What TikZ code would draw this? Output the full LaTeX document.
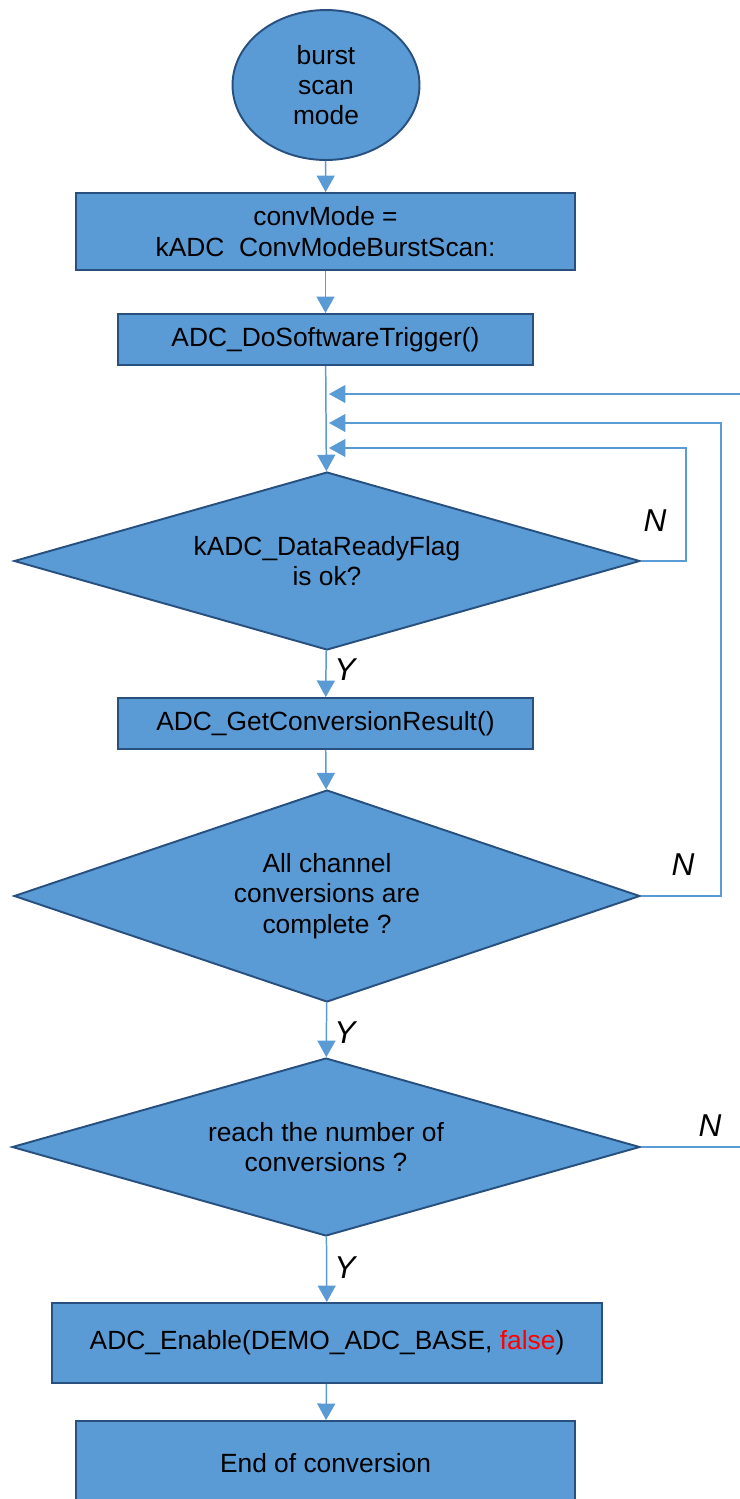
\documentclass[tikz,border=0pt]{standalone}
\usepackage{fontspec}
\setmainfont{Liberation Sans}
\usetikzlibrary{shapes.geometric,arrows.meta}
\definecolor{boxfill}{HTML}{5B9BD5}
\definecolor{boxline}{HTML}{27507F}
\definecolor{wire}{HTML}{5B9BD5}
\definecolor{kwred}{HTML}{FF0000}
\tikzset{
  base/.style={fill=boxfill, draw=boxline, line width=1.1pt, align=center,
    font=\fontsize{15}{17.2}\selectfont, inner sep=0pt},
  procbox/.style={base, rectangle},
  startnode/.style={base, ellipse, minimum width=3.74cm, minimum height=3cm},
  decision/.style={base, diamond, shape aspect=3.5},
  flow/.style={draw=wire, line width=0.85pt,
    -{Triangle[width=0.36cm,length=0.33cm,fill=wire]}},
  plainflow/.style={draw=wire, line width=0.85pt},
  yn/.style={font=\fontsize{18}{20}\selectfont\itshape, inner sep=0pt}
}
\begin{document}
\begin{tikzpicture}[x=0.02cm,y=-0.02cm]
\useasboundingbox (0,0) rectangle (740,1499);
\clip (0,0) rectangle (740,1499);

% process steps
\node[startnode] (start) at (326,85) {burst\\scan\\mode};
\node[procbox, minimum width=9.98cm, minimum height=1.54cm] (mode) at (325.5,231.5)
  {convMode =\\kADC\ \ ConvModeBurstScan:};
\node[procbox, minimum width=8.3cm, minimum height=1.02cm] (trig) at (325.5,339.5)
  {ADC\_DoSoftwareTrigger()};
\node[decision, minimum width=12.52cm, minimum height=3.56cm] (ready) at (327,561)
  {kADC\_DataReadyFlag\\is ok?};
\node[procbox, minimum width=8.3cm, minimum height=1.02cm] (get) at (325.5,723.5)
  {ADC\_GetConversionResult()};
\node[decision, minimum width=12.52cm, minimum height=4.24cm] (done) at (327,896)
  {All channel\\conversions are\\complete ?};
\node[decision, minimum width=12.56cm, minimum height=3.56cm] (count) at (326,1147)
  {reach the number of\\conversions ?};
\node[procbox, minimum width=11cm, minimum height=1.6cm] (disable) at (327,1343)
  {ADC\_Enable(DEMO\_ADC\_BASE, \textcolor{kwred}{false})};
\node[procbox, minimum width=9.98cm, minimum height=1.68cm] (finish) at (325.5,1463)
  {End of conversion};

% loop entry points on the main line
\coordinate (in3) at (329,394);
\coordinate (in2) at (329,423);
\coordinate (in1) at (329,448);
\coordinate (edgeTop) at (740,394);
\coordinate (edgeBottom) at (740,1147);

% main flow
\draw[flow] (start) -- (mode);
\draw[flow] (mode) -- (trig);
\draw[flow] (trig) -- (ready);
\draw[flow] (ready) -- (get);
\draw[flow] (get) -- (done);
\draw[flow] (done) -- (count);
\draw[flow] (count) -- (disable);
\draw[flow] (disable) -- (finish);

% "no" branches
\draw[flow] (ready.east) -- ++(45,0) |- (in1);
\draw[flow] (done.east) -- ++(80,0) |- (in2);
\draw[plainflow] (count.east) -- (edgeBottom);
\draw[flow] (edgeTop) -- (in3);

% branch labels
\node[yn] (n1) at (655,521) {N};
\node[yn] (n2) at (683,865) {N};
\node[yn] (n3) at (710,1126) {N};
\node[yn] (y1) at (345,670) {Y};
\node[yn] (y2) at (345,1033) {Y};
\node[yn] (y3) at (345,1268) {Y};
\end{tikzpicture}
\end{document}
